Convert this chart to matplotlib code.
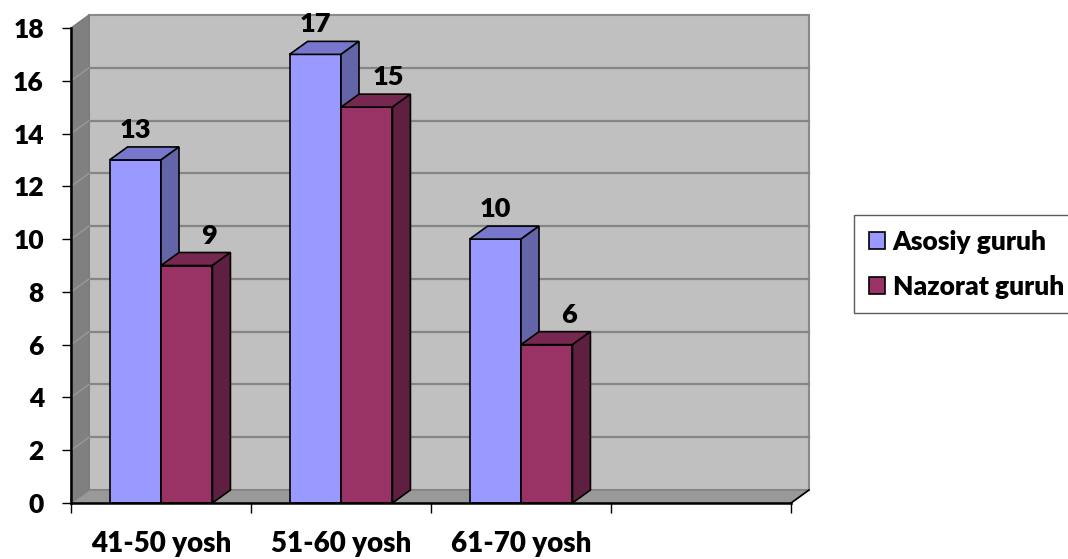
import matplotlib
matplotlib.use("Agg")
import matplotlib.pyplot as plt
from matplotlib.patches import Polygon, Patch

# Data
categories = ["41-50 yosh", "51-60 yosh", "61-70 yosh", ""]
series_names = ["Asosiy guruh", "Nazorat guruh"]
asosiy = [13, 17, 10, None]
nazorat = [9, 15, 6, None]
y_ticks = [0, 2, 4, 6, 8, 10, 12, 14, 16, 18]

# Face colours per series: front, top, side
faces = [
    ("#9999FF", "#7777CC", "#6464A8"),
    ("#993366", "#772850", "#5E1F40"),
]
# Horizontal nudge (pixels) of the value labels for each series
label_shift_px = [0, 22]

FONT = "Lato"
WEIGHT = "heavy"
W, H, DPI = 1068, 559, 100
fig = plt.figure(figsize=(W / DPI, H / DPI), dpi=DPI)
fig.patch.set_facecolor("white")

# Plot area in pixels: front axes frame
left_px, bottom_px, width_px, height_px = 71, 56, 720, 475
ax = fig.add_axes([left_px / W, bottom_px / H, width_px / W, height_px / H])
ncat = len(categories)
ymax = y_ticks[-1]
ax.set_xlim(0, ncat)
ax.set_ylim(0, ymax)
ax.patch.set_visible(False)

# Depth offset (pixels) converted to data units
depth_x_px, depth_y_px = 18, 13
xu = ncat / width_px
yu = ymax / height_px
dx = depth_x_px * xu
dy = depth_y_px * yu

# Walls and floor
side = Polygon([(0, 0), (0, ymax), (dx, ymax + dy), (dx, dy)], closed=True,
               fc="#808080", ec="#7a7a7a", lw=1, zorder=0.5, clip_on=False)
floor = Polygon([(0, 0), (ncat, 0), (ncat + dx, dy), (dx, dy)], closed=True,
                fc="#999999", ec="#808080", lw=1, zorder=0.6, clip_on=False)
back = Polygon([(dx, dy), (ncat + dx, dy), (ncat + dx, ymax + dy), (dx, ymax + dy)],
               closed=True, fc="#C0C0C0", ec="#8a8a8a", lw=1.5, zorder=0.4, clip_on=False)
for p in (back, side, floor):
    ax.add_patch(p)

for v in y_ticks[1:-1]:
    ax.plot([dx, ncat + dx], [v + dy, v + dy], color="#858585", lw=1.6,
            zorder=0.45, clip_on=False)
    ax.plot([0, dx], [v, v + dy], color="#999999", lw=1, zorder=0.55, clip_on=False)
ax.plot([ncat, ncat + dx], [0, dy], color="black", lw=1.2, zorder=0.7, clip_on=False)

# 3D columns
nser = 2
bw = 1 / 3.5
gap = (1 - nser * bw) / 2
for s, vals in enumerate([asosiy, nazorat]):
    front_c, top_c, side_c = faces[s]
    for i, v in enumerate(vals):
        if v is None:
            continue
        x0 = i + gap + s * bw
        x1 = x0 + bw
        z = 2 + i * 0.1 + s * 0.01
        ax.add_patch(Polygon([(x0, 0), (x1, 0), (x1, v), (x0, v)], closed=True,
                             fc=front_c, ec="black", lw=1.2, zorder=z, clip_on=False))
        ax.add_patch(Polygon([(x0, v), (x1, v), (x1 + dx, v + dy), (x0 + dx, v + dy)],
                             closed=True, fc=top_c, ec="black", lw=1.2, zorder=z,
                             clip_on=False))
        ax.add_patch(Polygon([(x1, 0), (x1 + dx, dy), (x1 + dx, v + dy), (x1, v)],
                             closed=True, fc=side_c, ec="black", lw=1.2, zorder=z,
                             clip_on=False))
        ax.text((x0 + x1) / 2 + label_shift_px[s] * xu, v + dy + 9 * yu, str(v),
                ha="center", va="baseline", fontsize=19.5, fontweight=WEIGHT,
                family=FONT, color="black", zorder=5, clip_on=False)

# Axes frame and ticks
for sp in ("top", "right"):
    ax.spines[sp].set_visible(False)
ax.spines["left"].set_linewidth(1.8)
ax.spines["bottom"].set_linewidth(1.8)
ax.spines["left"].set_zorder(3)
ax.spines["bottom"].set_zorder(3)

ax.set_yticks(y_ticks)
ax.set_yticklabels([str(t) for t in y_ticks], fontsize=19, fontweight=WEIGHT, family=FONT)
ax.tick_params(axis="y", direction="out", length=6.5, width=1, pad=13)

ax.set_xticks(range(ncat + 1))
ax.set_xticklabels([])
ax.set_xticks([i + 0.5 for i in range(ncat)], minor=True)
ax.set_xticklabels(categories, minor=True, fontsize=20, fontweight=WEIGHT, family=FONT)
ax.tick_params(axis="x", which="major", direction="out", length=7, width=1)
ax.tick_params(axis="x", which="minor", length=0, pad=20)

# Legend
handles = [Patch(fc=faces[k][0], ec="black", lw=1.2) for k in range(nser)]
leg = fig.legend(handles, series_names, loc="upper left",
                 bbox_to_anchor=(854 / W, 1 - 215 / H), borderaxespad=0,
                 frameon=True, fancybox=False, edgecolor="#333333",
                 prop={"family": FONT, "weight": WEIGHT, "size": 19},
                 handlelength=0.62, handleheight=0.62, handletextpad=0.3,
                 labelspacing=0.8, borderpad=0.55)
leg.get_frame().set_linewidth(1)

fig.savefig("out.png", dpi=DPI)
